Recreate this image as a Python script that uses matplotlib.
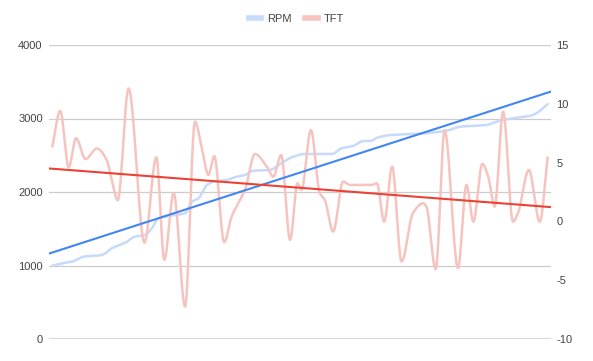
import numpy as np
import matplotlib.pyplot as plt
from matplotlib.lines import Line2D

# sample positions (0..100 along the run) and values
tft_t = [0.0, 1.6, 3.3, 4.8, 6.7, 9.0, 11.0, 12.0, 13.2, 15.4, 18.6, 21.0, 22.6, 24.5,
         26.8, 28.8, 30.2, 31.5, 32.7, 34.7, 36.2, 37.9, 38.9, 40.9, 43.3, 44.6, 46.2,
         48.0, 49.5, 50.3, 52.2, 54.0, 55.0, 56.7, 58.7, 60.1, 64.5, 65.5, 67.0, 68.6,
         70.5, 72.8, 74.9, 75.5, 77.4, 79.2, 81.9, 83.6, 85.0, 86.8, 88.0, 89.3, 91.0,
         93.0, 94.0, 96.2, 98.4, 100.0]
tft = [6.36, 9.4, 4.6, 7.07, 5.3, 6.2, 5.2, 3.5, 1.8, 11.3, -1.8, 5.45, -3.27, 2.4,
       -7.24, 8.48, 6.2, 3.95, 5.56, -1.77, 0.41, 1.83, 2.68, 5.73, 4.66, 3.8, 5.65,
       -1.57, 3.25, 2.68, 7.77, 2.4, 1.83, -0.86, 3.38, 3.1, 3.1, 3.25, -0.02, 4.66,
       -3.41, 0.7, 1.55, 1.26, -4.06, 7.77, -3.98, 3.1, -0.02, 4.89, 3.8, 1.26, 9.33,
       -0.02, 0.7, 4.38, -0.02, 5.45]

rpm_t = [0.0, 2.6, 4.0, 6.3, 10.0, 12.0, 14.7, 16.7, 18.7, 20.1, 21.4, 24.8, 26.8, 28.2,
         29.5, 31.2, 32.5, 35.2, 37.2, 38.9, 40.6, 43.9, 46.0, 48.6, 51.0, 56.4, 58.4,
         60.7, 62.8, 64.1, 65.8, 68.5, 71.8, 75.2, 79.6, 82.3, 87.6, 90.3, 94.3, 96.4,
         97.7, 100.0]
rpm = [997, 1038, 1052, 1120, 1143, 1234, 1310, 1392, 1415, 1506, 1642, 1687, 1710, 1868,
       1914, 2095, 2140, 2163, 2208, 2231, 2290, 2299, 2381, 2480, 2517, 2517, 2594,
       2626, 2694, 2694, 2744, 2776, 2785, 2799, 2834, 2888, 2912, 2970, 3016, 3034,
       3071, 3197]

left_ticks = [0, 1000, 2000, 3000, 4000]
right_ticks = [-10, -5, 0, 5, 10, 15]


def pchip(x, y, xs):
    # monotone cubic (Fritsch-Carlson) for a smooth line through the points
    x = np.asarray(x, float)
    y = np.asarray(y, float)
    h = np.diff(x)
    d = np.diff(y) / h
    m = np.zeros_like(y)
    for k in range(1, len(y) - 1):
        if d[k - 1] * d[k] > 0:
            w1 = 2 * h[k] + h[k - 1]
            w2 = h[k] + 2 * h[k - 1]
            m[k] = (w1 + w2) / (w1 / d[k - 1] + w2 / d[k])
    m[0] = d[0]
    m[-1] = d[-1]
    i = np.clip(np.searchsorted(x, xs) - 1, 0, len(x) - 2)
    s = (xs - x[i]) / h[i]
    h00 = 2 * s**3 - 3 * s**2 + 1
    h10 = s**3 - 2 * s**2 + s
    h01 = -2 * s**3 + 3 * s**2
    h11 = s**3 - s**2
    return h00 * y[i] + h10 * h[i] * m[i] + h01 * y[i + 1] + h11 * h[i] * m[i + 1]


xs = np.linspace(0, 100, 1500)
rpm_s = pchip(rpm_t, rpm, xs)
tft_s = pchip(tft_t, tft, xs)

fig = plt.figure(figsize=(5.93, 3.61), dpi=100)
ax = fig.add_axes([49 / 593, 22 / 361, 502 / 593, 294 / 361])
ax2 = ax.twinx()

ax.set_zorder(ax2.get_zorder() - 1)
ax2.patch.set_visible(False)

ax.plot(xs, rpm_s, color='#c6dafc', lw=1.8, solid_capstyle='round', zorder=2)
ax2.plot(xs, tft_s, color='#f6c4bf', lw=1.8, solid_capstyle='round', zorder=2)

x0, x1 = -0.67, 100.67
xl = np.array([x0, x1])
p1 = np.polyfit(xs, rpm_s, 1)
p2 = np.polyfit(xs, tft_s, 1)
ax2.plot(xl, (np.polyval(p1, xl) / 4000) * 25 - 10, color='#4285f4', lw=1.5, zorder=3)
ax2.plot(xl, np.polyval(p2, xl), color='#ea4335', lw=1.5, zorder=3)

ax.set_xlim(x0, x1)
ax.set_ylim(0, 4000)
ax2.set_ylim(-10, 15)

ax.set_yticks(left_ticks)
ax.set_yticklabels([str(v) for v in left_ticks])
ax2.set_yticks(right_ticks)
ax2.set_yticklabels([str(v) for v in right_ticks])
ax.set_xticks([])

for a in (ax, ax2):
    for s in a.spines.values():
        s.set_visible(False)
    a.tick_params(length=0, labelsize=8, labelcolor='#444444')
    for lab in a.get_yticklabels():
        lab.set_fontfamily('Liberation Sans')
ax.tick_params(axis='y', pad=4.5)
ax2.tick_params(axis='y', pad=3.8)

for v in left_ticks[1:]:
    ax.axhline(v, color='#cccccc', lw=0.9, zorder=1)
ax.axhline(0, color='#333333', lw=1.0, zorder=1)

handles = [Line2D([], [], color='#c6dafc', lw=4), Line2D([], [], color='#f6c4bf', lw=4)]
fig.legend(handles, ['RPM', 'TFT'], loc='center', bbox_to_anchor=(0.5, 1 - 19 / 361),
           ncol=2, frameon=False, handlelength=1.1, handletextpad=0.6, columnspacing=1.2,
           prop={'family': 'Liberation Sans', 'size': 8}, labelcolor='#444444')

fig.savefig('out.png', dpi=100)
